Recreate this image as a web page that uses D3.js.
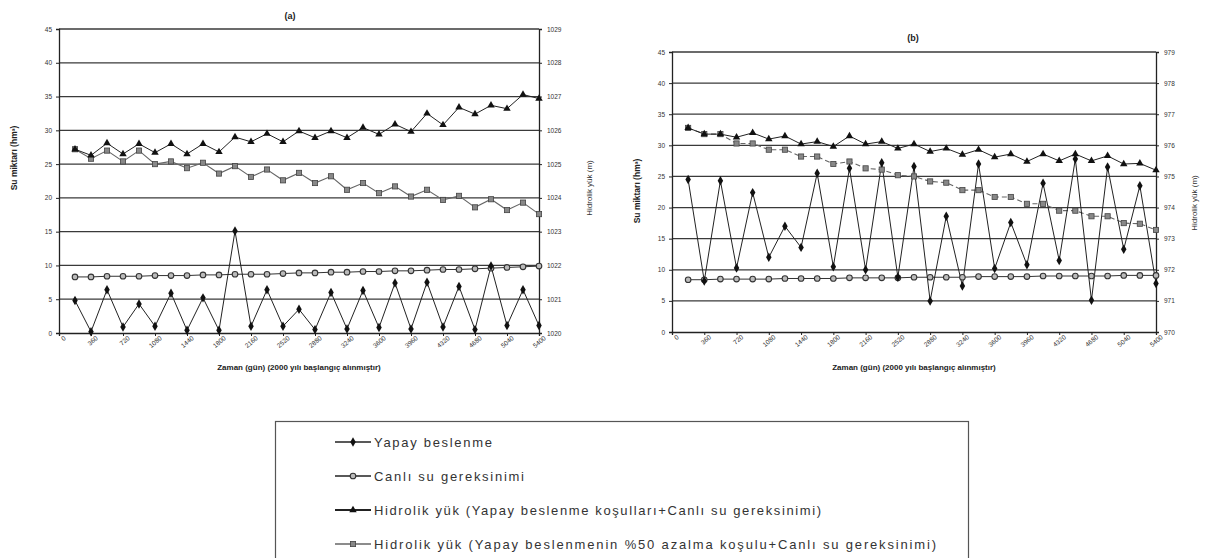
<!DOCTYPE html>
<html><head><meta charset="utf-8">
<script src="https://cdnjs.cloudflare.com/ajax/libs/d3/7.8.5/d3.min.js"></script>
<style>
body{margin:0;background:#fff;}
svg{display:block;font-family:"Liberation Sans",Arial,sans-serif;}
</style></head>
<body><svg id="c" width="1206" height="558"></svg>
<script>
// ---------- DATA ----------
const days = [180,360,540,720,900,1080,1260,1440,1620,1800,1980,2160,2340,2520,2700,2880,3060,3240,3420,3600,3780,3960,4140,4320,4500,4680,4860,5040,5220,5400];
const xTickValues = [0,360,720,1080,1440,1800,2160,2520,2880,3240,3600,3960,4320,4680,5040,5400];
const leftTicks = [0,5,10,15,20,25,30,35,40,45];
const rightTicksA = [1020,1021,1022,1023,1024,1025,1026,1027,1028,1029];
const rightTicksB = [970,971,972,973,974,975,976,977,978,979];

// Panel (a)
const aYapay = [4.8,0.2,6.4,0.9,4.3,1.0,5.9,0.4,5.2,0.4,15.1,1.0,6.4,1.0,3.5,0.5,6.0,0.6,6.3,0.8,7.4,0.6,7.5,0.9,6.9,0.5,9.9,1.1,6.4,1.1];
const aCanli = [8.3,8.3,8.4,8.4,8.4,8.5,8.5,8.5,8.6,8.6,8.7,8.7,8.7,8.8,8.9,8.9,9.0,9.0,9.1,9.1,9.2,9.2,9.3,9.4,9.4,9.5,9.6,9.7,9.8,9.9];
const aHidrolik1 = [1025.44,1025.26,1025.62,1025.30,1025.60,1025.34,1025.60,1025.30,1025.60,1025.36,1025.80,1025.66,1025.90,1025.66,1025.98,1025.78,1025.98,1025.78,1026.08,1025.88,1026.18,1025.96,1026.50,1026.16,1026.68,1026.48,1026.74,1026.64,1027.06,1026.94];
const aHidrolik2 = [1025.44,1025.16,1025.40,1025.08,1025.40,1025.00,1025.08,1024.88,1025.04,1024.72,1024.94,1024.62,1024.84,1024.52,1024.74,1024.44,1024.64,1024.24,1024.44,1024.14,1024.34,1024.04,1024.24,1023.94,1024.06,1023.72,1023.96,1023.64,1023.86,1023.52];

// Panel (b)
const bYapay = [24.5,8.2,24.3,10.3,22.4,12.0,17.0,13.6,25.5,10.5,26.3,10.0,27.2,8.8,26.6,5.0,18.6,7.4,27.0,10.2,17.6,10.8,23.9,11.5,27.8,5.1,26.5,13.3,23.5,7.8];
const bCanli = [8.4,8.4,8.5,8.5,8.5,8.5,8.6,8.6,8.6,8.6,8.7,8.7,8.7,8.7,8.8,8.8,8.8,8.8,8.9,8.9,8.9,8.9,9.0,9.0,9.0,9.0,9.0,9.1,9.1,9.1];
const bHidrolik1 = [976.56,976.36,976.36,976.26,976.40,976.20,976.30,976.04,976.12,975.96,976.30,976.04,976.12,975.90,976.04,975.80,975.90,975.70,975.86,975.62,975.72,975.48,975.72,975.50,975.72,975.50,975.66,975.40,975.42,975.20];
const bHidrolik2 = [976.56,976.36,976.36,976.06,976.06,975.86,975.86,975.64,975.64,975.40,975.48,975.26,975.22,975.04,975.00,974.84,974.80,974.56,974.56,974.34,974.34,974.12,974.12,973.90,973.90,973.72,973.72,973.50,973.48,973.28];

const legendLabels = ["Yapay beslenme","Canlı su gereksinimi","Hidrolik yük (Yapay beslenme koşulları+Canlı su gereksinimi)","Hidrolik yük (Yapay beslenmenin %50 azalma koşulu+Canlı su gereksinimi)"];
const yTitle = "Su miktarı (hm³)";
const y2Title = "Hidrolik yük (m)";
const xTitle = "Zaman (gün) (2000 yılı başlangıç alınmıştır)";

// ---------- DRAW ----------
const svg = d3.select("#c");
const fmt = d3.format("d");

function marker(g, type, x, y) {
  if (type === "diamond") {
    g.append("path").attr("d", d3.symbol(d3.symbolDiamond, 26)()).attr("transform", `translate(${x},${y})`).attr("fill", "#111");
  } else if (type === "circle") {
    g.append("circle").attr("cx", x).attr("cy", y).attr("r", 2.8).attr("fill", "#bbb").attr("stroke", "#333").attr("stroke-width", 1.1);
  } else if (type === "triangle") {
    g.append("path").attr("d", d3.symbol(d3.symbolTriangle, 24)()).attr("transform", `translate(${x},${y})`).attr("fill", "#111");
  } else if (type === "square") {
    g.append("rect").attr("x", x - 2.6).attr("y", y - 2.6).attr("width", 5.2).attr("height", 5.2).attr("fill", "#888").attr("stroke", "#444").attr("stroke-width", 0.8);
  }
}

function panel(cfg) {
  const g = svg.append("g");
  const x = d3.scaleLinear().domain([0, 5400]).range([cfg.x0, cfg.x1]);
  const y = d3.scaleLinear().domain([0, 45]).range([cfg.y0, cfg.y1]);
  const y2 = d3.scaleLinear().domain([cfg.r[0], cfg.r[cfg.r.length - 1]]).range([cfg.y0, cfg.y1]);

  // gridlines
  g.append("g").selectAll("line").data(leftTicks.slice(1)).join("line")
    .attr("x1", cfg.x0).attr("x2", cfg.x1).attr("y1", d => y(d)).attr("y2", d => y(d))
    .attr("stroke", "#3a3a3a").attr("stroke-width", 1.3);

  const ax = d3.axisLeft(y).tickValues(leftTicks).tickFormat(fmt).tickSize(3).tickPadding(4);
  const gl = g.append("g").attr("transform", `translate(${cfg.x0},0)`).call(ax);
  const ax2 = d3.axisRight(y2).tickValues(cfg.r).tickFormat(fmt).tickSize(3).tickPadding(5);
  const gr = g.append("g").attr("transform", `translate(${cfg.x1},0)`).call(ax2);
  const axb = d3.axisBottom(x).tickValues(xTickValues).tickFormat(fmt).tickSize(3).tickPadding(2);
  const gb = g.append("g").attr("transform", `translate(0,${cfg.y0})`).call(axb);
  [gl, gr, gb].forEach(a => {
    a.select(".domain").attr("stroke", "#222").attr("stroke-width", 1.3);
    a.selectAll(".tick line").attr("stroke", "#222");
    a.selectAll("text").attr("font-size", 6.5).attr("fill", "#333").attr("font-family", "Liberation Sans, Arial, sans-serif");
  });
  gb.selectAll("text").attr("text-anchor", "end").attr("dx", "0.2em").attr("dy", "0.6em")
    .attr("transform", "rotate(-40)");

  const lineL = d3.line().x((d, i) => x(days[i])).y(d => y(d));
  const lineR = d3.line().x((d, i) => x(days[i])).y(d => y2(d));

  g.append("path").datum(cfg.h2).attr("d", lineR).attr("fill", "none").attr("stroke", "#666").attr("stroke-width", 1.1)
    .attr("stroke-dasharray", cfg.dash ? "5,3" : null);
  g.append("path").datum(cfg.h1).attr("d", lineR).attr("fill", "none").attr("stroke", "#222").attr("stroke-width", 1);
  g.append("path").datum(cfg.canli).attr("d", lineL).attr("fill", "none").attr("stroke", "#333").attr("stroke-width", 1);
  g.append("path").datum(cfg.yapay).attr("d", lineL).attr("fill", "none").attr("stroke", "#222").attr("stroke-width", 1);

  const gm = g.append("g");
  cfg.h2.forEach((d, i) => marker(gm, "square", x(days[i]), y2(d)));
  cfg.h1.forEach((d, i) => marker(gm, "triangle", x(days[i]), y2(d)));
  cfg.canli.forEach((d, i) => marker(gm, "circle", x(days[i]), y(d)));
  cfg.yapay.forEach((d, i) => marker(gm, "diamond", x(days[i]), y(d)));

  g.append("text").attr("x", cfg.titleX).attr("y", cfg.titleY).attr("text-anchor", "middle")
    .attr("font-size", 9).attr("font-weight", "bold").attr("fill", "#222").text(cfg.title);
  g.append("text").attr("transform", `translate(${cfg.ytX},${cfg.ytY}) rotate(-90)`).attr("text-anchor", "middle")
    .attr("font-size", 8.5).attr("font-weight", "bold").attr("fill", "#222").text(yTitle);
  g.append("text").attr("transform", `translate(${cfg.y2tX},${cfg.y2tY}) rotate(-90)`).attr("text-anchor", "middle")
    .attr("font-size", 8).attr("fill", "#333").text(y2Title);
  g.append("text").attr("x", (cfg.x0 + cfg.x1) / 2).attr("y", cfg.xtY).attr("text-anchor", "middle")
    .attr("font-size", 8).attr("font-weight", "bold").attr("fill", "#222").text(xTitle);
}

panel({x0: 59, x1: 539, y0: 333, y1: 29, r: rightTicksA,
  yapay: aYapay, canli: aCanli, h1: aHidrolik1, h2: aHidrolik2, dash: false,
  title: "(a)", titleX: 290, titleY: 19, ytX: 17, ytY: 158, y2tX: 592, y2tY: 188, xtY: 370});
panel({x0: 672, x1: 1156, y0: 332, y1: 52, r: rightTicksB,
  yapay: bYapay, canli: bCanli, h1: bHidrolik1, h2: bHidrolik2, dash: true,
  title: "(b)", titleX: 913, titleY: 41, ytX: 640, ytY: 191, y2tX: 1197, y2tY: 203, xtY: 370});

// legend
const lg = svg.append("g");
lg.append("rect").attr("x", 275.5).attr("y", 421.5).attr("width", 693).attr("height", 140)
  .attr("fill", "#fff").attr("stroke", "#555").attr("stroke-width", 1.2);
const legTypes = ["diamond", "circle", "triangle", "square"];
const legY = d3.scalePoint().domain(d3.range(4)).range([442, 544]);
const legLen = [118, 150, 447, 562];
legendLabels.forEach((t, i) => {
  const yy = legY(i);
  lg.append("line").attr("x1", 335).attr("x2", 371).attr("y1", yy).attr("y2", yy)
    .attr("stroke", i === 3 ? "#666" : "#222").attr("stroke-width", i === 2 ? 2 : 1.3);
  marker(lg, legTypes[i], 353, yy);
  lg.append("text").attr("x", 374).attr("y", yy + 4.5).attr("font-size", 13).attr("fill", "#333")
    .attr("textLength", legLen[i]).attr("lengthAdjust", "spacing").text(t);
});
</script></body></html>
